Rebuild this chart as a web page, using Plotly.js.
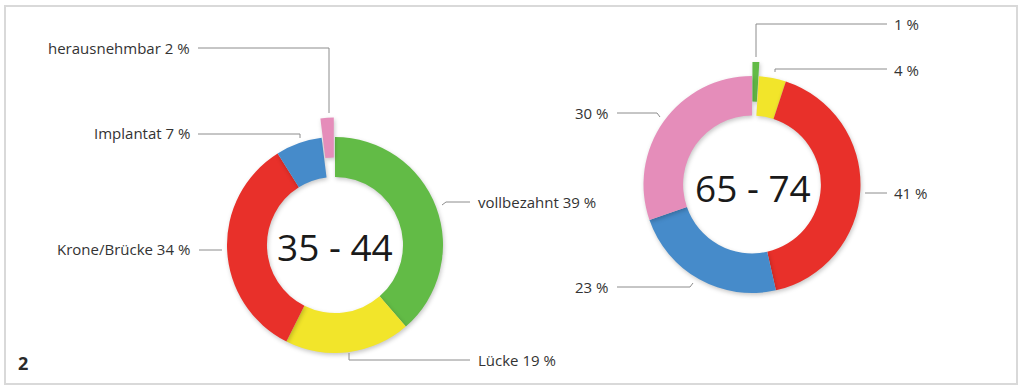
<!DOCTYPE html>
<html><head><meta charset="utf-8">
<script src="https://cdn.plot.ly/plotly-3.0.1.min.js"></script>
<style>html,body{margin:0;padding:0;background:#fff;} #chart{width:1024px;height:390px;}
.slice path.surface{filter: drop-shadow(1px 2px 2px rgba(0,0,0,0.22));}
</style>
</head><body><div id="chart"></div>
<script>
// Data
var categories = ["vollbezahnt", "Lücke", "Krone/Brücke", "Implantat", "herausnehmbar"];
var colors = ["#62bb46", "#f2e52a", "#e8302a", "#468bca", "#e58dba"];
var group1Label = "35 - 44";
var group1Values = [39, 19, 34, 7, 2];
var group1Pull = [0, 0, 0, 0, 0.18];
var group2Label = "65 - 74";
var group2Values = [1, 4, 41, 23, 30];
var group2Pull = [0.13, 0, 0, 0, 0];
var group1Texts = ["vollbezahnt 39 %", "Lücke 19 %", "Krone/Brücke 34 %", "Implantat 7 %", "herausnehmbar 2 %"];
var group2Texts = ["1 %", "4 %", "41 %", "23 %", "30 %"];

var W = 1024, H = 390;
function px(x){ return x / W; }
function py(y){ return 1 - y / H; }

function donut(values, pull, cx, cy, r, maxPull, hole){
  var box = 2 * r * (1 + maxPull);
  var bw = box / W, bh = box / H;
  return {
    type: 'pie', values: values, labels: categories, sort: false,
    direction: 'clockwise', rotation: 0, hole: hole, pull: pull,
    marker: {colors: colors, line: {width: 0}},
    textinfo: 'none', hoverinfo: 'label+value', showlegend: false,
    domain: {x: [px(cx) - bw/2 - 0.05, px(cx) + bw/2 + 0.05], y: [py(cy) - bh/2, py(cy) + bh/2]}
  };
}

var traces = [
  donut(group1Values, group1Pull, 335, 245, 108, 0.18, 0.63),
  donut(group2Values, group2Pull, 752, 184.5, 108.5, 0.13, 0.635)
];

var lab = {family: "'Open Sans', 'DejaVu Sans', sans-serif", size: 15, color: '#333333'};
function ann(text, x, y, anchor){
  return {text: text, x: px(x), y: py(y), xref: 'paper', yref: 'paper',
    xanchor: anchor, yanchor: 'middle', showarrow: false, font: lab};
}
function path(pts){
  var d = 'M' + pts.map(function(p){ return px(p[0]) + ',' + py(p[1]); }).join('L');
  return {type: 'path', xref: 'paper', yref: 'paper', path: d,
    line: {color: '#8c8c8c', width: 1}};
}

var annotations = [
  // left donut labels
  ann(group1Texts[4], 192, 48, 'right'),
  ann(group1Texts[3], 192, 133, 'right'),
  ann(group1Texts[2], 192, 249, 'right'),
  ann(group1Texts[0], 476, 202, 'left'),
  ann(group1Texts[1], 476, 360, 'left'),
  // right donut labels
  ann(group2Texts[0], 892, 24, 'left'),
  ann(group2Texts[1], 892, 70, 'left'),
  ann(group2Texts[2], 892, 193, 'left'),
  ann(group2Texts[4], 610, 113, 'right'),
  ann(group2Texts[3], 610, 287, 'right'),
  // centre labels
  {text: group1Label, x: px(335), y: py(246), xref: 'paper', yref: 'paper', showarrow: false,
   xanchor: 'center', yanchor: 'middle', font: {family: "'Open Sans', sans-serif", size: 37, color: '#1a1a1a'}},
  {text: group2Label, x: px(753), y: py(187), xref: 'paper', yref: 'paper', showarrow: false,
   xanchor: 'center', yanchor: 'middle', font: {family: "'Open Sans', sans-serif", size: 37, color: '#1a1a1a'}},
  {text: '<b>2</b>', x: px(16), y: py(363), xref: 'paper', yref: 'paper', showarrow: false,
   xanchor: 'left', yanchor: 'middle', font: {family: "'Open Sans', sans-serif", size: 18, color: '#2a2a2a'}}
];

var shapes = [
  {type: 'rect', xref: 'paper', yref: 'paper', x0: px(5), x1: px(1017), y0: py(6), y1: py(384),
   line: {color: '#d9d9d9', width: 2}},
  path([[198, 48], [329, 48], [329, 113]]),
  path([[198, 134], [300, 134], [300, 138]]),
  path([[199, 250], [222, 250]]),
  path([[442, 205], [446, 202], [470, 202]]),
  path([[349, 353], [349, 360], [470, 360]]),
  path([[756, 57], [756, 24], [887, 24]]),
  path([[775, 72], [775, 69], [887, 69]]),
  path([[865, 193], [887, 193]]),
  path([[617, 113], [657, 113], [660, 117]]),
  path([[617, 287], [690, 287], [693, 283]])
];

var layout = {
  width: W, height: H, margin: {l: 0, r: 0, t: 0, b: 0},
  paper_bgcolor: '#ffffff', plot_bgcolor: '#ffffff',
  annotations: annotations, shapes: shapes, showlegend: false
};
Plotly.newPlot('chart', traces, layout, {displayModeBar: false, staticPlot: true});
</script></body></html>
